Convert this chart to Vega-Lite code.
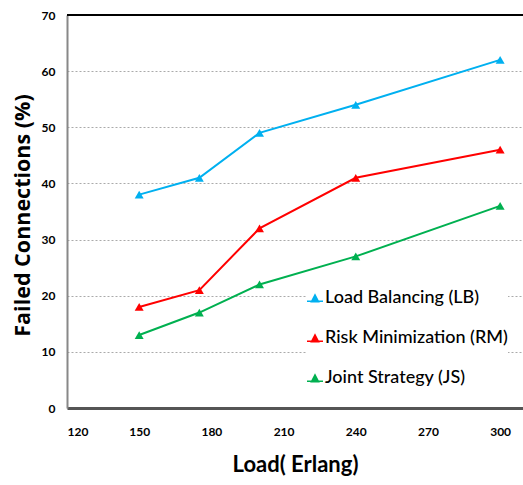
{
  "$schema": "https://vega.github.io/schema/vega-lite/v6.json",
  "width": 456,
  "height": 393,
  "autosize": {"type": "none"},
  "padding": {"left": 67, "top": 15, "right": 0, "bottom": 77},
  "background": "white",
  "config": {
    "view": {"stroke": null},
    "font": "Lato"
  },
  "data": {
    "values": [
      {"load": 150, "failed": 38, "series": "Load Balancing (LB)"},
      {"load": 175, "failed": 41, "series": "Load Balancing (LB)"},
      {"load": 200, "failed": 49, "series": "Load Balancing (LB)"},
      {"load": 240, "failed": 54, "series": "Load Balancing (LB)"},
      {"load": 300, "failed": 62, "series": "Load Balancing (LB)"},
      {"load": 150, "failed": 18, "series": "Risk Minimization (RM)"},
      {"load": 175, "failed": 21, "series": "Risk Minimization (RM)"},
      {"load": 200, "failed": 32, "series": "Risk Minimization (RM)"},
      {"load": 240, "failed": 41, "series": "Risk Minimization (RM)"},
      {"load": 300, "failed": 46, "series": "Risk Minimization (RM)"},
      {"load": 150, "failed": 13, "series": "Joint Strategy (JS)"},
      {"load": 175, "failed": 17, "series": "Joint Strategy (JS)"},
      {"load": 200, "failed": 22, "series": "Joint Strategy (JS)"},
      {"load": 240, "failed": 27, "series": "Joint Strategy (JS)"},
      {"load": 300, "failed": 36, "series": "Joint Strategy (JS)"}
    ]
  },
  "layer": [
    {
      "mark": {"type": "rule", "color": "black", "strokeWidth": 2},
      "encoding": {"y": {"datum": 70, "type": "quantitative", "scale": {"domain": [0, 70]}}}
    },
    {
      "mark": {"type": "line", "strokeWidth": 2, "clip": true},
      "encoding": {
        "x": {
          "field": "load", "type": "quantitative",
          "scale": {"domain": [120, 309.5], "nice": false, "zero": false},
          "axis": {
            "values": [120, 150, 180, 210, 240, 270, 300],
            "title": "Load( Erlang)",
            "titleFont": "Lato",
            "titleFontSize": 22, "titleFontWeight": "bold", "titleColor": "black", "titlePadding": 17,
            "labelFontSize": 12, "labelFontWeight": "bold", "labelColor": "black", "labelPadding": 18,
            "ticks": false, "grid": false,
            "domainColor": "#555555", "domainWidth": 3
          }
        },
        "y": {
          "field": "failed", "type": "quantitative",
          "scale": {"domain": [0, 70], "nice": false},
          "axis": {
            "values": [0, 10, 20, 30, 40, 50, 60, 70],
            "title": "Failed Connections (%)",
            "titleFont": "Open Sans",
            "titleFontSize": 21.5, "titleFontWeight": "bold", "titleColor": "black",
            "titleX": -44, "titleY": 200, "titleAngle": 270, "titleAlign": "center", "titleBaseline": "middle",
            "labelFontSize": 12, "labelFontWeight": "bold", "labelColor": "black", "labelPadding": 12,
            "ticks": false,
            "grid": true, "gridDash": [2, 2], "gridColor": "#aaaaaa", "gridWidth": 1,
            "domainColor": "#888888", "domainWidth": 2
          }
        },
        "color": {
          "field": "series", "type": "nominal",
          "scale": {
            "domain": ["Load Balancing (LB)", "Risk Minimization (RM)", "Joint Strategy (JS)"],
            "range": ["#00B0F0", "#FF0000", "#00B050"]
          },
          "legend": {
            "orient": "none", "legendX": 239, "legendY": 274,
            "title": null,
            "labelFont": "Lato",
            "labelFontSize": 18, "labelColor": "black", "labelLimit": 300, "labelFontWeight": 500,
            "symbolType": "M-1,0.3L1,0.3L1,0.5L-1,0.5Z M-0.6,0.55L0,-0.6L0.6,0.55Z",
            "symbolSize": 256, "symbolStrokeWidth": 0,
            "rowPadding": 22, "labelOffset": 1,
            "fillColor": "white"
          }
        }
      }
    },
    {
      "mark": {"type": "point", "shape": "triangle-up", "filled": true, "size": 80, "opacity": 1},
      "encoding": {
        "x": {"field": "load", "type": "quantitative"},
        "y": {"field": "failed", "type": "quantitative"},
        "color": {"field": "series", "type": "nominal", "legend": null}
      }
    }
  ]
}
